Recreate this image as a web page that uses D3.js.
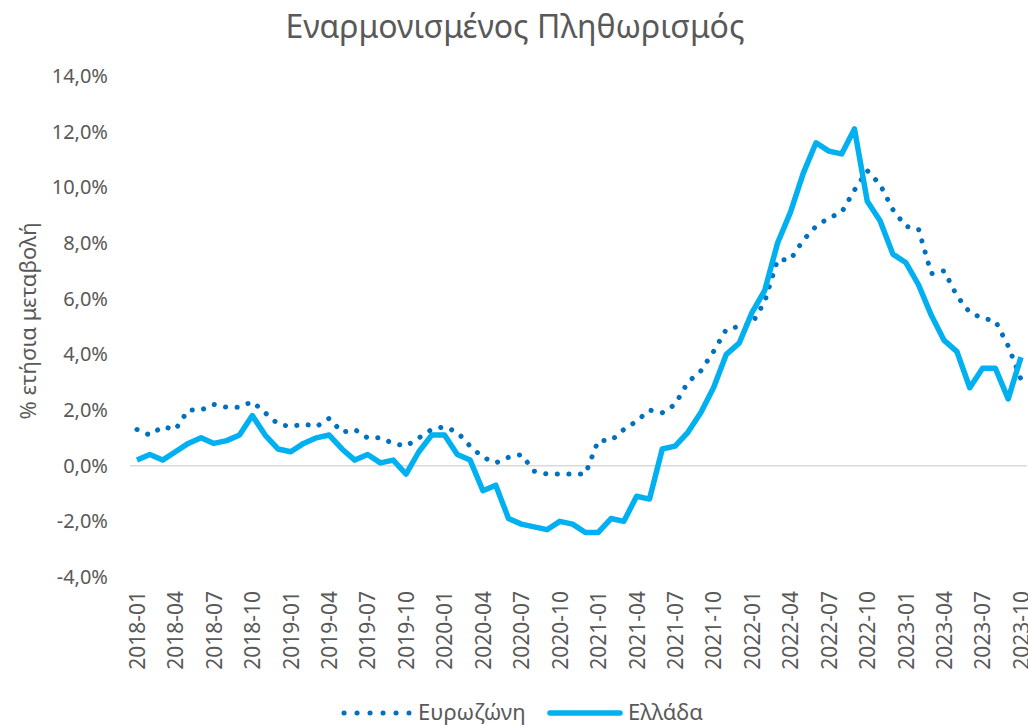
<!DOCTYPE html>
<meta charset="utf-8">
<body style="margin:0;background:#fff">
<div id="chart"></div>
<script src="https://cdn.jsdelivr.net/npm/d3@7"></script>
<script>
// months 2018-01 .. 2023-10
var months = [];
for (var y = 2018; y <= 2023; y++) {
  for (var m = 1; m <= 12; m++) {
    if (y === 2023 && m > 10) break;
    months.push(y + "-" + (m < 10 ? "0" + m : m));
  }
}

var eurozone = [1.3, 1.1, 1.4, 1.3, 2.0, 2.0, 2.2, 2.1, 2.1, 2.3, 1.9, 1.5,
                1.4, 1.5, 1.4, 1.7, 1.2, 1.3, 1.0, 1.0, 0.8, 0.7, 1.0, 1.3,
                1.4, 1.2, 0.7, 0.3, 0.1, 0.3, 0.4, -0.2, -0.3, -0.3, -0.3, -0.3,
                0.9, 0.9, 1.3, 1.6, 2.0, 1.9, 2.2, 3.0, 3.4, 4.1, 4.9, 5.0,
                5.1, 5.9, 7.4, 7.4, 8.1, 8.6, 8.9, 9.1, 9.9, 10.6, 10.1, 9.2,
                8.6, 8.5, 6.9, 7.0, 6.1, 5.5, 5.3, 5.2, 4.3, 3.1];

var greece = [0.2, 0.4, 0.2, 0.5, 0.8, 1.0, 0.8, 0.9, 1.1, 1.8, 1.1, 0.6,
              0.5, 0.8, 1.0, 1.1, 0.6, 0.2, 0.4, 0.1, 0.2, -0.3, 0.5, 1.1,
              1.1, 0.4, 0.2, -0.9, -0.7, -1.9, -2.1, -2.2, -2.3, -2.0, -2.1, -2.4,
              -2.4, -1.9, -2.0, -1.1, -1.2, 0.6, 0.7, 1.2, 1.9, 2.8, 4.0, 4.4,
              5.5, 6.3, 8.0, 9.1, 10.5, 11.6, 11.3, 11.2, 12.1, 9.5, 8.8, 7.6,
              7.3, 6.5, 5.4, 4.5, 4.1, 2.8, 3.5, 3.5, 2.4, 3.9];

var yTicks = [-4, -2, 0, 2, 4, 6, 8, 10, 12, 14];

var width = 1028, height = 725;
var grey = "#595959";
var font = "'Noto Sans', 'Open Sans', sans-serif";

var svg = d3.select("#chart").append("svg")
    .attr("width", width)
    .attr("height", height)
    .style("font-family", font);

var x = d3.scalePoint().domain(months).range([137, 1021]);
var yScale = d3.scaleLinear().domain([-4, 14]).range([577, 76]);

// title
svg.append("text")
    .attr("x", 515).attr("y", 38)
    .attr("text-anchor", "middle")
    .style("font-size", "32px")
    .style("fill", grey)
    .text("Εναρμονισμένος Πληθωρισμός");

// zero line
svg.append("line")
    .attr("x1", 130).attr("x2", 1027)
    .attr("y1", yScale(0)).attr("y2", yScale(0))
    .attr("stroke", "#d9d9d9")
    .attr("stroke-width", 1.5);

// y axis
var yAxis = svg.append("g")
    .attr("transform", "translate(108,0)")
    .call(d3.axisLeft(yScale).tickValues(yTicks).tickSize(0).tickPadding(0)
      .tickFormat(function(d) { return d3.format(".1f")(d).replace(".", ",").replace("−", "-") + "%"; }));
yAxis.select(".domain").remove();
yAxis.selectAll("text")
    .style("font-size", "20px")
    .style("font-family", font)
    .style("fill", grey);

svg.append("text")
    .attr("transform", "translate(36,321) rotate(-90)")
    .attr("text-anchor", "middle")
    .style("font-size", "22px")
    .style("fill", grey)
    .text("% ετήσια μεταβολή");

// x axis labels
var xAxis = svg.append("g")
    .attr("transform", "translate(0,591)")
    .call(d3.axisBottom(x).tickValues(months.filter(function(d, i) { return i % 3 === 0; }))
      .tickSize(0).tickPadding(0));
xAxis.select(".domain").remove();
xAxis.selectAll("text")
    .attr("transform", "rotate(-90)")
    .attr("text-anchor", "end")
    .attr("x", 0)
    .attr("y", 0)
    .attr("dy", "0.35em")
    .style("font-size", "21px")
    .style("font-family", font)
    .style("fill", grey);

var line = d3.line()
    .x(function(d, i) { return x(months[i]); })
    .y(function(d) { return yScale(d); });

svg.append("path")
    .datum(eurozone)
    .attr("d", line)
    .attr("fill", "none")
    .attr("stroke", "#0070c0")
    .attr("stroke-width", 5)
    .attr("stroke-linecap", "round")
    .attr("stroke-dasharray", "0.1 11.5");

svg.append("path")
    .datum(greece)
    .attr("d", line)
    .attr("fill", "none")
    .attr("stroke", "#00b0f0")
    .attr("stroke-width", 5.5)
    .attr("stroke-linejoin", "round");

// legend
var leg = svg.append("g").style("font-size", "22px").style("fill", grey);
leg.append("line")
    .attr("x1", 344).attr("x2", 409).attr("y1", 713).attr("y2", 713)
    .attr("stroke", "#0070c0").attr("stroke-width", 5)
    .attr("stroke-linecap", "round").attr("stroke-dasharray", "0.1 12.9");
leg.append("text").attr("x", 418).attr("y", 720).text("Ευρωζώνη");
leg.append("line")
    .attr("x1", 550).attr("x2", 620).attr("y1", 713).attr("y2", 713)
    .attr("stroke", "#00b0f0").attr("stroke-width", 5.5)
    .attr("stroke-linecap", "round");
leg.append("text").attr("x", 628).attr("y", 720).text("Ελλάδα");
</script>
</body>
